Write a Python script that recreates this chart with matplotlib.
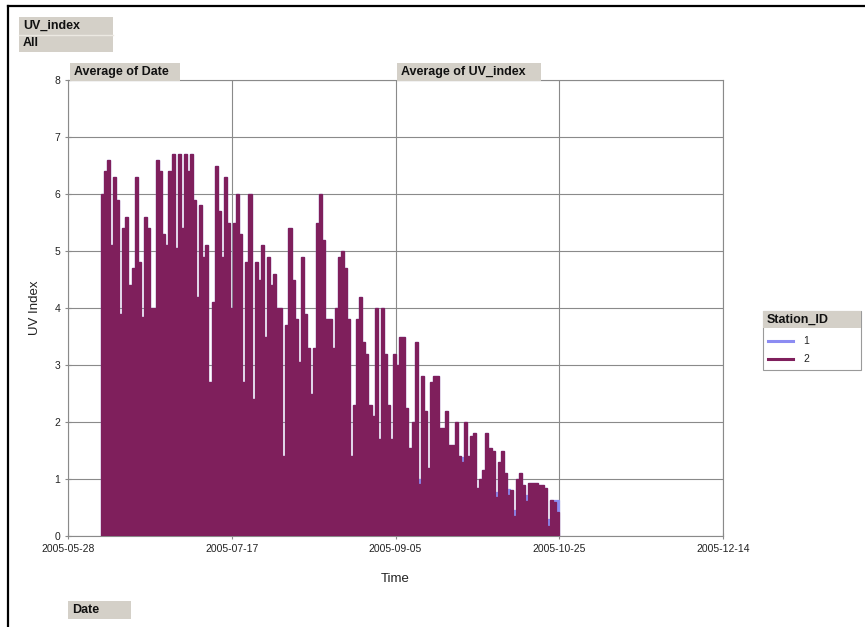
import matplotlib
matplotlib.use("Agg")
import matplotlib.pyplot as plt  # noqa: E402
import matplotlib.dates as mdates  # noqa: E402
import numpy as np  # noqa: E402
import pandas as pd  # noqa: E402
from matplotlib.patches import Rectangle  # noqa: E402
from matplotlib.lines import Line2D  # noqa: E402

plt.rcParams["font.family"] = ["Liberation Sans", "DejaVu Sans"]

# daily UV index readings, 2005-06-07 .. 2005-10-25
first_day = "2005-06-07"
last_day = "2005-10-25"

station_2 = [
    6.0, 6.4, 6.6, 5.1, 6.3, 5.9, 3.9, 5.4, 5.6, 4.4, 4.7, 6.3, 4.8, 3.85, 5.6, 5.4,
    4.0, 4.0, 6.6, 6.4, 5.3, 5.1, 6.4, 6.7, 5.05, 6.7, 5.4, 6.7, 6.4, 6.7, 5.9, 4.2,
    5.8, 4.9, 5.1, 2.7, 4.1, 6.5, 5.7, 4.9, 6.3, 5.5, 4.0, 5.5, 6.0, 5.3, 2.7, 4.8,
    6.0, 2.4, 4.8, 4.5, 5.1, 3.5, 4.9, 4.4, 4.6, 4.0, 4.0, 1.4, 3.7, 5.4, 4.5, 3.8,
    3.05, 4.9, 3.9, 3.3, 2.5, 3.3, 5.5, 6.0, 5.2, 3.8, 3.8, 3.3, 4.0, 4.9, 5.0, 4.7,
    3.8, 1.4, 2.3, 3.8, 4.2, 3.4, 3.2, 2.3, 2.1, 4.0, 1.7, 4.0, 3.2, 2.3, 1.7, 3.2,
    3.0, 3.5, 3.5, 2.25, 1.55, 2.0, 3.4, 0.92, 2.8, 2.2, 1.2, 2.7, 2.8, 2.8, 1.9, 1.9,
    2.2, 1.6, 1.6, 2.0, 1.4, 1.3, 2.0, 1.4, 1.75, 1.8, 0.85, 1.0,
    1.15, 1.8, 1.55, 1.5, 0.68, 1.3, 1.5, 1.1, 0.72, 0.8, 0.35, 1.0, 1.1, 0.9, 0.62,
    0.93, 0.93, 0.93, 0.9, 0.9, 0.85, 0.18, 0.63, 0.6, 0.42,
]
station_1 = [
    6.0, 6.4, 6.6, 5.1, 6.3, 5.9, 3.9, 5.4, 5.6, 4.4, 4.7, 6.3, 4.8, 3.85, 5.6, 5.4,
    4.0, 4.0, 6.6, 6.4, 5.3, 5.1, 6.4, 6.7, 5.05, 6.7, 5.4, 6.7, 6.4, 6.7, 5.9, 4.2,
    5.8, 4.9, 5.1, 2.7, 4.1, 6.5, 5.7, 4.9, 6.3, 5.5, 4.0, 5.5, 6.0, 5.3, 2.7, 4.8,
    6.0, 2.4, 4.8, 4.5, 5.1, 3.5, 4.9, 4.4, 4.6, 4.0, 4.0, 1.4, 3.7, 5.4, 4.5, 3.8,
    3.05, 4.9, 3.9, 3.3, 2.5, 3.3, 5.5, 6.0, 5.2, 3.8, 3.8, 3.3, 4.0, 4.9, 5.0, 4.7,
    3.8, 1.4, 2.3, 3.8, 4.2, 3.4, 3.2, 2.3, 2.1, 4.0, 1.7, 4.0, 3.2, 2.3, 1.7, 3.2,
    3.0, 3.5, 3.5, 2.25, 1.55, 2.0, 3.4, 1.0, 2.8, 2.2, 1.2, 2.7, 2.8, 2.8, 1.9, 1.9,
    2.2, 1.6, 1.6, 2.0, 1.4, 1.38, 2.0, 1.4, 1.75, 1.8, 0.85, 1.0,
    1.15, 1.8, 1.55, 1.5, 0.78, 1.3, 1.5, 1.1, 0.82, 0.8, 0.45, 1.0, 1.1, 0.9, 0.72,
    0.93, 0.93, 0.93, 0.9, 0.9, 0.85, 0.3, 0.63, 0.63, 0.63,
]
station_ids = ["1", "2"]
colors = ["#8C8CF2", "#7F1F5C"]

x_start, x_end = "2005-05-28", "2005-12-14"
tick_dates = ["2005-05-28", "2005-07-17", "2005-09-05", "2005-10-25", "2005-12-14"]

W, H = 865, 627
fig = plt.figure(figsize=(W / 100, H / 100), dpi=100)
fig.patch.set_facecolor("white")


def fx(x):
    return x / W


def fy(y):
    return 1 - y / H


ax = fig.add_axes([fx(68), fy(536), fx(723) - fx(68), fy(80) - fy(536)])

edges = mdates.date2num(pd.date_range(first_day, last_day, periods=len(station_2) + 1))
for vals, c in zip([station_1, station_2], colors):
    # thin outline in the same colour narrows the white gaps between days
    ax.stairs(vals, edges, fill=True, facecolor=c, edgecolor=c, linewidth=0.9, zorder=3)

ax.set_xlim(mdates.date2num(pd.Timestamp(x_start)), mdates.date2num(pd.Timestamp(x_end)))
ax.set_ylim(0, 8)
ax.set_xticks(mdates.date2num(pd.to_datetime(tick_dates)))
ax.xaxis.set_major_formatter(mdates.DateFormatter("%Y-%m-%d"))
ax.set_yticks(np.arange(0, 9, 1))
ax.grid(True, color="#8a8a8a", linewidth=0.8, zorder=1)
ax.set_axisbelow(True)
for s in ax.spines.values():
    s.set_color("#8a8a8a")
    s.set_linewidth(0.8)
ax.tick_params(direction="inout", length=5, width=0.8, color="#8a8a8a",
               labelsize=7.5, labelcolor="#222222", pad=3)
ax.set_ylabel("UV Index", fontsize=9.5, color="#222222", labelpad=10)
ax.set_xlabel("Time", fontsize=9.5, color="#222222", labelpad=14)

# outer chart border
fig.add_artist(Line2D([fx(8), fx(8)], [fy(6), 0], transform=fig.transFigure, color="black", lw=1.6))
fig.add_artist(Line2D([fx(8), 1], [fy(6), fy(6)], transform=fig.transFigure, color="black", lw=1.6))


def button(x0, y0, x1, y1, text):
    fig.add_artist(Rectangle((fx(x0), fy(y1)), fx(x1) - fx(x0), fy(y0) - fy(y1),
                             transform=fig.transFigure, facecolor="#D4D0C8",
                             edgecolor="none", zorder=5))
    fig.text(fx(x0 + 4), fy((y0 + y1) / 2), text, fontsize=9, fontweight="bold",
             va="center", ha="left", color="#111111", zorder=6)


button(19, 17, 113, 35, "UV_index")
button(19, 35, 113, 52, "All")
fig.add_artist(Line2D([fx(19), fx(113)], [fy(35), fy(35)], transform=fig.transFigure,
                      color="#ECE9E2", lw=1, zorder=6))
button(70, 63, 180, 81, "Average of Date")
button(397, 63, 541, 81, "Average of UV_index")
button(68, 601, 131, 619, "Date")

# legend
fig.add_artist(Rectangle((fx(763), fy(370)), fx(861) - fx(763), fy(311) - fy(370),
                         transform=fig.transFigure, facecolor="white",
                         edgecolor="#9a9a9a", lw=0.8, zorder=4))
button(763, 311, 861, 328, "Station_ID")
for i, (sid, c) in enumerate(zip(station_ids, colors)):
    yy = 341 + i * 18
    fig.add_artist(Line2D([fx(768), fx(793)], [fy(yy), fy(yy)], transform=fig.transFigure,
                          color=c, lw=2.2, zorder=6))
    fig.text(fx(803), fy(yy), sid, fontsize=7.5, va="center", ha="left",
             color="#222222", zorder=7)

fig.savefig("out.png", dpi=100)
